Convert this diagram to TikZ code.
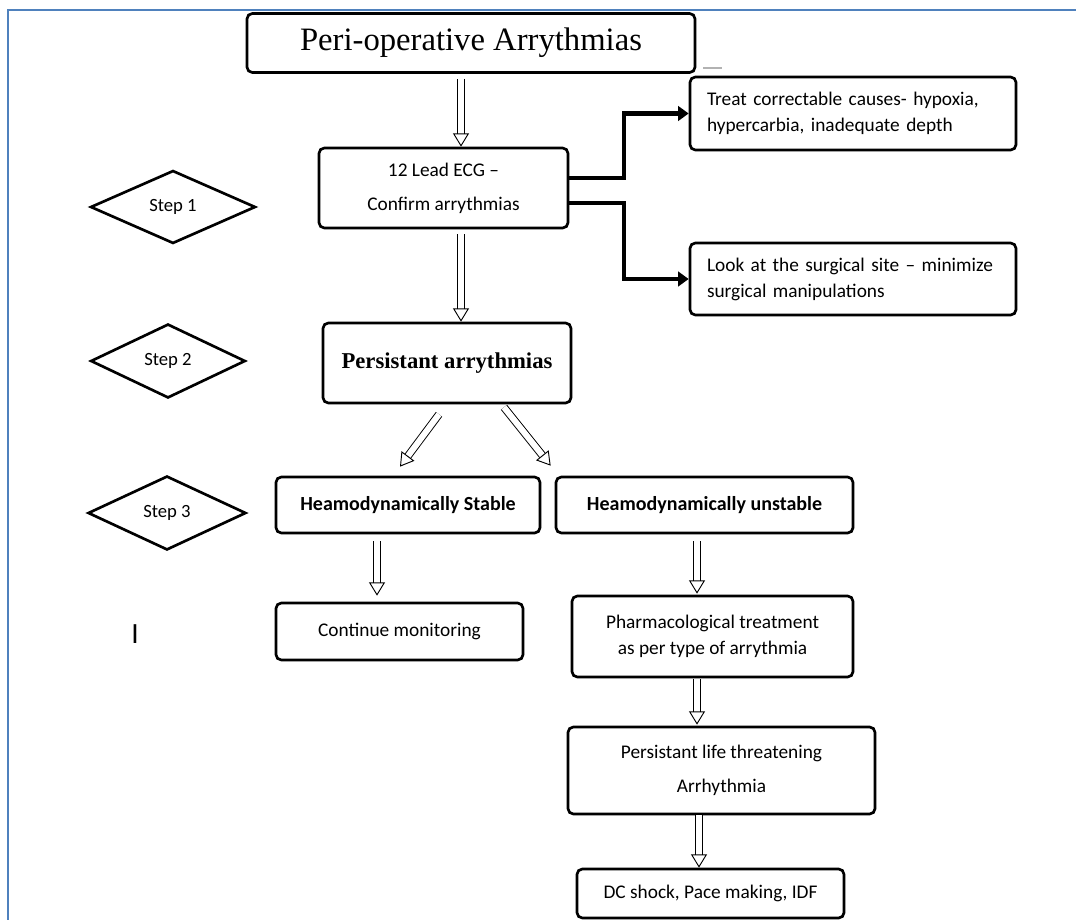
\documentclass[tikz,border=0pt]{standalone}
\usepackage{fontspec}
\setmainfont{Liberation Serif}
\newfontfamily\calib{Carlito}
\usepackage{xcolor}
\usetikzlibrary{arrows.meta,shapes.geometric,calc,shadows}
\definecolor{frameblue}{RGB}{79,129,189}

\begin{document}
\begin{tikzpicture}[x=0.75pt,y=-0.75pt,
    box/.style={draw,fill=white,line width=2pt,rounded corners=4pt,align=center,inner sep=0pt,
        font=\calib\fontsize{14.5}{19.5}\selectfont,
        drop shadow={shadow xshift=0.8pt,shadow yshift=-0.8pt,opacity=0.3}},
    stepbox/.style={draw,diamond,line width=2pt,inner sep=0pt,
        font=\calib\fontsize{14}{16}\selectfont},
    hollow/.style={double,double distance=4.5pt,line width=0.7pt,
        -{Triangle[open,length=10pt,width=12pt,line width=0.7pt]}},
    thickarrow/.style={line width=3.2pt,-{Triangle[length=8pt,width=11pt]}}
    ]
    \useasboundingbox (0,0) rectangle (1076,920);
    % frame
    \draw[frameblue,line width=1.5pt] (1076,10) -- (8,10) -- (8,920);
    \draw[gray!60,line width=0.8pt] (703,68) -- (722,68);

    % main column
    \node[box,minimum width=336pt,minimum height=44.25pt,
        font=\fontsize{24.5}{28}\selectfont] (title) at (471,43) {Peri-operative Arrythmias};
    \node[box,minimum width=186.75pt,minimum height=60pt,
        font=\calib\fontsize{14.5}{25.5}\selectfont] (ecg) at (443.5,188) {12 Lead ECG –\\Confirm arrythmias};
    \node[box,minimum width=244.5pt,minimum height=54.75pt,align=left,
        text width=219pt] (treat) at (853,113.5) {Treat correctable causes- hypoxia,\\hypercarbia, inadequate depth};
    \node[box,minimum width=244.5pt,minimum height=54pt,align=left,
        text width=219pt] (look) at (853,279) {Look at the surgical site – minimize\\surgical manipulations};
    \node[box,minimum width=186pt,minimum height=60pt,
        font=\bfseries\fontsize{17}{20}\selectfont] (persist) at (447,363) {Persistant arrythmias};

    % step 3 branches
    \node[box,minimum width=198pt,minimum height=42pt,font=\calib\bfseries\fontsize{15}{18}\selectfont]
        (stable) at (408,505) {Heamodynamically Stable};
    \node[box,minimum width=222.75pt,minimum height=42pt,font=\calib\bfseries\fontsize{15}{18}\selectfont]
        (unstable) at (704.5,505) {Heamodynamically unstable};
    \node[box,minimum width=185.25pt,minimum height=42.75pt] (monitor) at (399.5,631.5) {Continue monitoring};
    \node[box,minimum width=210.75pt,minimum height=60.75pt] (pharma) at (712.5,636.5)
        {Pharmacological treatment\\as per type of arrythmia};
    \node[box,minimum width=230.25pt,minimum height=65.25pt,
        font=\calib\fontsize{14.5}{25.5}\selectfont] (life) at (721.5,770.5)
        {Persistant life threatening\\Arrhythmia};
    \node[box,minimum width=200.25pt,minimum height=36.75pt] (dc) at (710.5,893.5) {DC shock, Pace making, IDF};

    % steps
    \node[stepbox,minimum width=123.75pt,minimum height=54.75pt] (step1) at (173,207) {Step 1};
    \node[stepbox,minimum width=116pt,minimum height=55.5pt] (step2) at (168,361) {Step 2};
    \node[stepbox,minimum width=118.5pt,minimum height=55.5pt] (step3) at (167,513) {Step 3};
    \node[font=\calib\fontsize{22}{24}\selectfont] (mark) at (135,634) {I};

    % connectors
    \draw[hollow] ($(title.south)+(-10,5)$) -- ($(ecg.north)+(17.5,0)$);
    \draw[hollow] ($(ecg.south)+(17.5,5)$) -- ($(persist.north)+(14,0)$);
    \draw[thickarrow] ($(ecg.east)+(0,-10)$) -- ++(55,0) |- (treat.west);
    \draw[thickarrow] ($(ecg.east)+(0,15)$) -- ++(55,0) |- (look.west);
    \draw[hollow] ($(persist.south)+(-8,10)$) -- ($(stable.north)+(-8,-9)$);
    \draw[hollow] ($(persist.south)+(57,3)$) -- ($(unstable.north west)+(-4,-10)$);
    \draw[hollow] ($(stable.south)+(-31,7)$) -- ($(monitor.north)+(-22.5,-6)$);
    \draw[hollow] ($(unstable.south)+(-7.5,7)$) -- ($(pharma.north)+(-15.5,-1)$);
    \draw[hollow] ($(pharma.south)+(-15.5,1)$) -- ($(life.north)+(-24.5,-1)$);
    \draw[hollow] ($(life.south)+(-22.5,0)$) -- ($(dc.north)+(-11.5,0)$);
\end{tikzpicture}
\end{document}
